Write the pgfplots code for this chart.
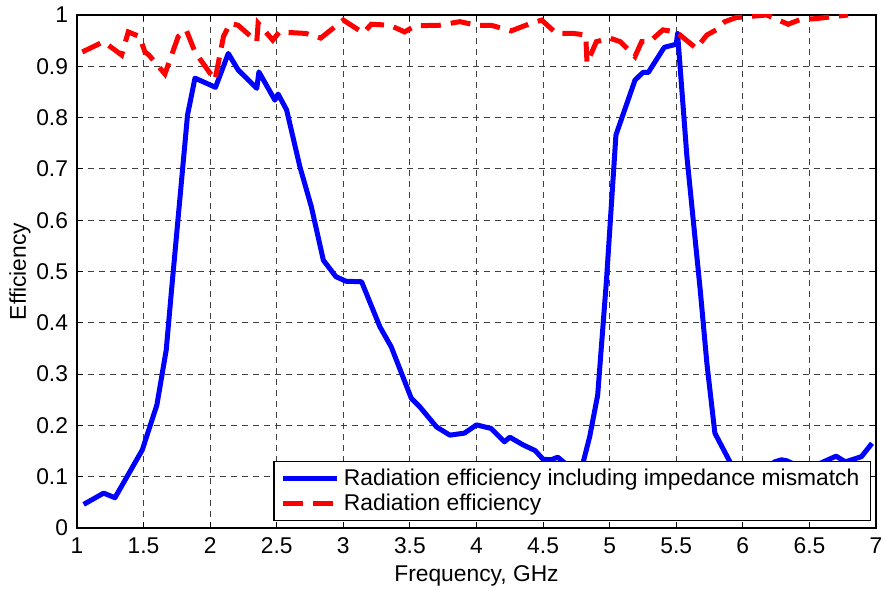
\documentclass[border=0pt]{standalone}
\usepackage{pgfplots}
\pgfplotsset{compat=1.18}
\usepackage{fontspec}
\setmainfont{Liberation Sans}
\newcommand{\fs}{\fontsize{11.4pt}{13.5pt}\selectfont}
\begin{document}
\fs
\begin{tikzpicture}
\begin{axis}[
  name=ax,
  scale only axis,
  width=399.5pt, height=256.5pt,
  xmin=1, xmax=7, ymin=0, ymax=1,
  xtick={1,1.5,...,7}, ytick={0,0.1,...,1},
  xticklabels={1,1.5,2,2.5,3,3.5,4,4.5,5,5.5,6,6.5,7},
  yticklabels={0,0.1,0.2,0.3,0.4,0.5,0.6,0.7,0.8,0.9,1},
  /pgf/number format/assume math mode=true,
  tick align=inside,
  major tick length=3pt,
  tick style={black, line width=0.5pt},
  axis line style={black, line width=0.6pt},
  grid=major,
  major grid style={black!75, line width=0.45pt, dash pattern=on 3pt off 2.5pt},
  ticklabel style={font=\fs},
  xticklabel style={yshift=-1pt},
  yticklabel style={xshift=-0.5pt},
  xlabel={Frequency, GHz},
  ylabel={Efficiency},
  xlabel style={font=\fs, yshift=2pt},
  ylabel style={font=\fs, yshift=-5pt},
  legend cell align=left,
  legend style={at={(0.9937,0.0136)}, anchor=south east, draw=black, line width=0.6pt,
    font=\fs, inner xsep=3.5pt, inner ysep=1.5pt, row sep=-1.5pt,
    legend image code/.code={\draw[#1] (0pt,0pt) -- (23.5pt,0pt); \path (0pt,0pt) -- (27pt,0pt);}},
]
\addplot[blue, line width=2.5pt, line join=round] coordinates {
(1.05,0.046) (1.2,0.068) (1.285,0.059) (1.49,0.152) (1.6,0.24) (1.67,0.347)
(1.71,0.464) (1.83,0.805) (1.886,0.877) (2.04,0.859) (2.136,0.925) (2.21,0.893)
(2.35,0.857) (2.366,0.889) (2.486,0.834) (2.51,0.846) (2.574,0.815) (2.674,0.704)
(2.76,0.626) (2.85,0.522) (2.944,0.49) (3.02,0.481) (3.137,0.48) (3.275,0.392)
(3.36,0.353) (3.51,0.253) (3.575,0.236) (3.70,0.197) (3.80,0.181) (3.91,0.185)
(4.0,0.201) (4.11,0.194) (4.21,0.168) (4.25,0.177) (4.35,0.162) (4.44,0.151)
(4.50,0.134) (4.56,0.133) (4.61,0.138) (4.68,0.123) (4.74,0.10) (4.80,0.127)
(4.85,0.178) (4.91,0.259) (4.976,0.483) (5.047,0.766) (5.19,0.873) (5.25,0.888)
(5.29,0.888) (5.41,0.937) (5.50,0.943) (5.51,0.964) (5.58,0.724) (5.68,0.464)
(5.73,0.321) (5.79,0.185) (5.915,0.123) (6.0,0.10) (6.1,0.10) (6.24,0.129)
(6.29,0.133) (6.33,0.131) (6.38,0.125) (6.48,0.11) (6.58,0.126) (6.70,0.140)
(6.77,0.129) (6.89,0.139) (6.97,0.165)
};
\addlegendentry{Radiation efficiency including impedance mismatch}
\addplot[red, line width=2.5pt, dash pattern=on 10pt off 5pt] coordinates {
(1.04,0.928) (1.2,0.948) (1.335,0.922) (1.385,0.967) (1.47,0.958) (1.51,0.928)
(1.54,0.922) (1.66,0.885) (1.76,0.958) (1.82,0.971) (1.886,0.928) (2.036,0.873)
(2.10,0.958) (2.15,0.984) (2.21,0.98) (2.35,0.948) (2.36,0.984) (2.47,0.951)
(2.52,0.967) (2.72,0.964) (2.83,0.955) (3.0,0.99) (3.15,0.965) (3.21,0.982)
(3.35,0.98) (3.46,0.967) (3.54,0.979) (3.72,0.98) (3.875,0.987) (4.0,0.98)
(4.11,0.98) (4.26,0.969) (4.41,0.984) (4.49,0.99) (4.60,0.964) (4.73,0.964)
(4.82,0.961) (4.83,0.906) (4.90,0.948) (5.00,0.955) (5.08,0.948) (5.19,0.919)
(5.24,0.948) (5.30,0.948) (5.40,0.971) (5.50,0.967) (5.65,0.935) (5.73,0.961)
(5.80,0.971) (5.865,0.987) (5.95,0.995) (6.18,1.0) (6.34,0.982) (6.43,0.991)
(6.55,0.993) (6.79,1.0)
};
\addlegendentry{Radiation efficiency}
\end{axis}
\pgfresetboundingbox
\path ([xshift=-38.5pt,yshift=-31pt]ax.south west) rectangle ([xshift=4pt,yshift=7.5pt]ax.north east);
\end{tikzpicture}
\end{document}
